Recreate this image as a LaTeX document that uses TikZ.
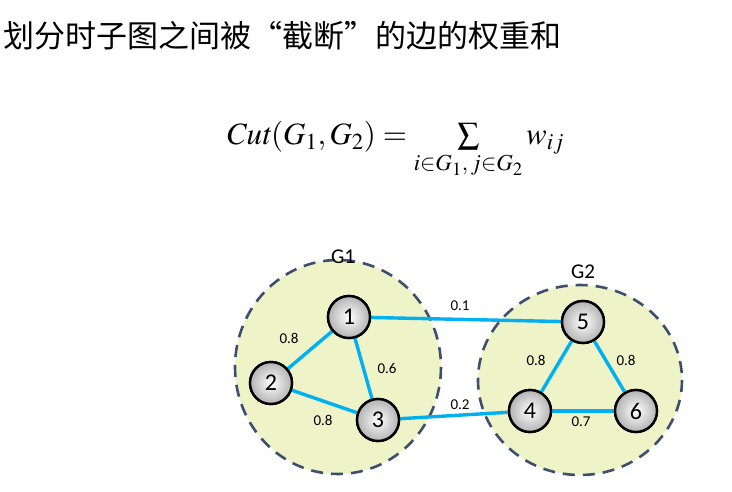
\documentclass[tikz,border=0pt]{standalone}
\usepackage{mathptmx}
\usepackage{fontspec}
\newfontfamily\lab{Carlito}
\newfontfamily\cjk{Noto Sans CJK SC}
\usetikzlibrary{positioning}
\definecolor{fillg}{RGB}{238,243,200}
\definecolor{edgec}{RGB}{0,176,240}
\definecolor{dashc}{RGB}{60,80,110}

\tikzset{
  vert/.style={circle, draw=black, line width=2.4pt, minimum size=42pt, inner sep=0pt,
    inner color=white, outer color=gray!60, font=\lab\fontsize{24}{24}\selectfont},
  group/.style={draw=dashc, dash pattern=on 12pt off 8pt, line width=2.6pt, fill=fillg},
  edge/.style={draw=edgec, line width=3.4pt},
  wlab/.style={font=\lab\fontsize{15}{15}\selectfont},
}

\begin{document}
\begin{tikzpicture}[x=1pt,y=-1pt]
  \useasboundingbox (0,0) rectangle (732,492);

  % titulo y formula
  \node[anchor=west, font=\cjk\fontsize{31}{31}\selectfont] (title) at (0,36) {划分时子图之间被“截断”的边的权重和};
  \node[font=\fontsize{31}{31}\selectfont] (formula) at (395,150)
    {$\mathit{Cut}(G_1,G_2)=\sum\limits_{i\in G_1,\,j\in G_2} w_{ij}$};

  % subgrafos
  \draw[group] (338,367) ellipse (103 and 107);
  \draw[group] (580,380) ellipse (102 and 95);
  \node[font=\lab\fontsize{21}{21}\selectfont] (g1) at (343,257) {G1};
  \node[font=\lab\fontsize{21}{21}\selectfont] (g2) at (583,272) {G2};

  % vertices
  \node[vert] (v1) at (349,317) {};
  \node[vert] (v2) at (271,383) {};
  \node[vert] (v3) at (378,420) {};
  \node[vert] (v4) at (530,411) {};
  \node[vert] (v5) at (583,322) {};
  \node[vert] (v6) at (636,411) {};

  % aristas
  \draw[edge] (v1) -- (v2);
  \draw[edge] (v1) -- (v3);
  \draw[edge] (v2) -- (v3);
  \draw[edge] (v1) -- (v5);
  \draw[edge] (v3) -- (v4);
  \draw[edge] (v4) -- (v5);
  \draw[edge] (v5) -- (v6);
  \draw[edge] (v4) -- (v6);
  % vertices encima
  \foreach \n in {1,...,6}
    \node[vert] at (v\n) {\n};

  % pesos
  \node[wlab] (w12) at (289,338) {0.8};
  \node[wlab] (w13) at (387,368) {0.6};
  \node[wlab] (w23) at (323,420) {0.8};
  \node[wlab] (w15) at (460,306) {0.1};
  \node[wlab] (w34) at (460,405) {0.2};
  \node[wlab] (w45) at (536,360) {0.8};
  \node[wlab] (w56) at (626,360) {0.8};
  \node[wlab] (w46) at (581,422) {0.7};
\end{tikzpicture}
\end{document}
